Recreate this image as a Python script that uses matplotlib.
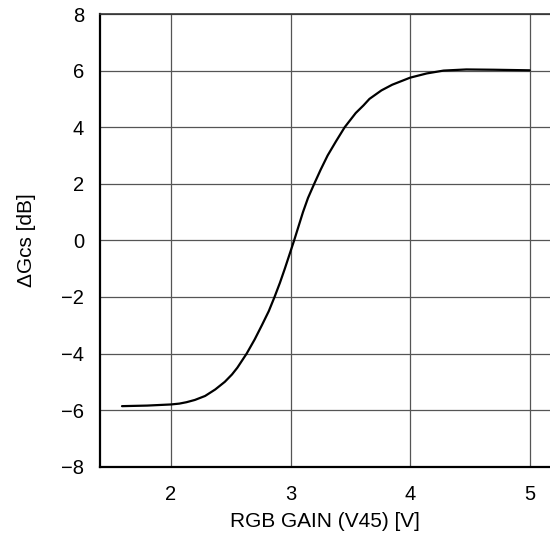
import matplotlib
matplotlib.use("Agg")
import matplotlib.pyplot as plt

plt.rcParams['font.family'] = ['Liberation Sans', 'DejaVu Sans']

gain_v = [1.59, 1.80, 2.00, 2.07, 2.13, 2.20, 2.285, 2.37, 2.45, 2.51, 2.555,
          2.633, 2.70, 2.76, 2.818, 2.866, 2.911, 2.952, 2.991, 3.03, 3.067,
          3.104, 3.146, 3.198, 3.252, 3.31, 3.38, 3.453, 3.545, 3.61, 3.66, 3.76,
          3.85, 4.00, 4.14, 4.28, 4.47, 4.70, 5.00]
delta_gcs = [-5.86, -5.84, -5.80, -5.77, -5.72, -5.64, -5.5, -5.27, -5.0, -4.74,
             -4.5, -4.0, -3.5, -3.0, -2.5, -2.0, -1.5, -1.0, -0.5, 0.0, 0.5,
             1.0, 1.5, 2.0, 2.5, 3.0, 3.5, 4.0, 4.5, 4.77, 5.0, 5.3,
             5.5, 5.75, 5.9, 6.0, 6.04, 6.03, 6.01]
x_ticks = [2, 3, 4, 5]
y_ticks = [-8, -6, -4, -2, 0, 2, 4, 6, 8]
y_tick_labels = ['\u22128', '\u22126', '\u22124', '\u22122', '0', '2', '4', '6', '8']

fig = plt.figure(figsize=(5.5, 5.38), dpi=100)
ax = fig.add_axes([100/550, 1 - 466.7/538, 450/550, 452.7/538])

ax.plot(gain_v, delta_gcs, color='black', lw=1.6, zorder=3,
        solid_joinstyle='round', solid_capstyle='round')

ax.set_xlim(1.406, 5.17)
ax.set_ylim(-8, 8)
ax.set_xticks(x_ticks)
ax.set_yticks(y_ticks)
ax.set_yticklabels(y_tick_labels)
ax.grid(True, color='#555555', lw=0.9)
ax.tick_params(length=0, labelsize=14.5, colors='black')
ax.tick_params(axis='y', pad=11.5)
ax.tick_params(axis='x', pad=13)

ax.spines['right'].set_visible(False)
ax.spines['left'].set_linewidth(1.6)
ax.spines['bottom'].set_linewidth(1.6)
ax.spines['top'].set_linewidth(1.2)
ax.spines['top'].set_color('#333333')

ax.set_xlabel('RGB GAIN (V45) [V]', fontsize=15, labelpad=6)
ax.set_ylabel('\u0394Gcs [dB]', fontsize=15, labelpad=18)

fig.savefig('out.png', dpi=100)
